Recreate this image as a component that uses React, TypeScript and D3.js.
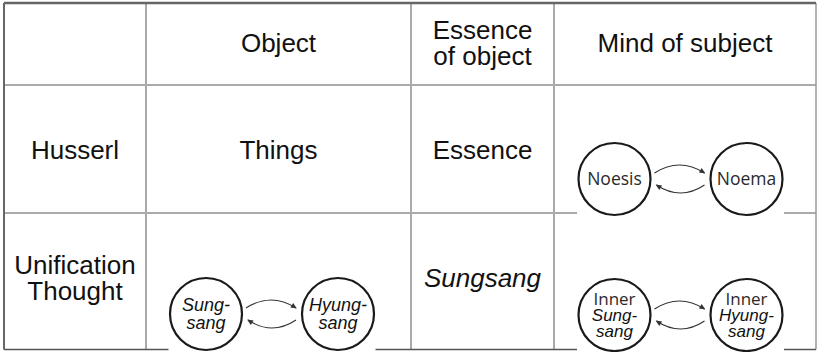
import React, { useEffect, useRef } from 'react';
import * as d3 from 'd3';

// ---- data ----
type Line = { t: string; italic?: boolean; humanist?: boolean };

const headerLabels: Line[][] = [
    [],
    [{ t: 'Object' }],
    [{ t: 'Essence' }, { t: 'of object' }],
    [{ t: 'Mind of subject' }],
];
const rowLabels: Line[][] = [
    [{ t: 'Husserl' }],
    [{ t: 'Unification' }, { t: 'Thought' }],
];
// text cells: [row, col, lines]
const textCells: [number, number, Line[]][] = [
    [0, 1, [{ t: 'Things' }]],
    [0, 2, [{ t: 'Essence' }]],
    [1, 2, [{ t: 'Sungsang', italic: true }]],
];
// diagram cells: [row, col, left circle lines, right circle lines]
const diagramCells: [number, number, Line[], Line[]][] = [
    [0, 3, [{ t: 'Noesis', humanist: true }], [{ t: 'Noema', humanist: true }]],
    [1, 1, [{ t: 'Sung-', italic: true }, { t: 'sang', italic: true }],
           [{ t: 'Hyung-', italic: true }, { t: 'sang', italic: true }]],
    [1, 3, [{ t: 'Inner', humanist: true }, { t: 'Sung-', italic: true }, { t: 'sang', italic: true }],
           [{ t: 'Inner', humanist: true }, { t: 'Hyung-', italic: true }, { t: 'sang', italic: true }]],
];

// ---- layout ----
const W = 817, H = 352;
const colEdges = [4, 146, 411, 554, 816];
const rowEdges = [3, 85, 213, 349.5];
const textMidY = [44, 149.5, 278];
const FONT = '"Liberation Sans", Arial, Helvetica, sans-serif';
const HUMANIST = '"Open Sans", "Noto Sans", sans-serif';

const App = () => {
    const ref = useRef<SVGSVGElement>(null);

    useEffect(() => {
        const svg = d3.select(ref.current);
        svg.selectAll('*').remove();

        const x = d3.scaleLinear().domain(d3.range(colEdges.length)).range(colEdges);
        const y = d3.scaleLinear().domain(d3.range(rowEdges.length)).range(rowEdges);
        const colMid = (c: number) => (x(c) + x(c + 1)) / 2;

        // grid lines
        const grid = svg.append('g');
        [1, 2, 3].forEach(c => grid.append('line')
            .attr('x1', x(c)).attr('x2', x(c)).attr('y1', y(0)).attr('y2', y(3))
            .attr('stroke', '#aaa').attr('stroke-width', 2));
        [1, 2].forEach(r => grid.append('line')
            .attr('x1', x(0)).attr('x2', x(4)).attr('y1', y(r)).attr('y2', y(r))
            .attr('stroke', '#aaa').attr('stroke-width', 2));
        grid.append('line').attr('x1', x(4)).attr('x2', x(4)).attr('y1', y(0)).attr('y2', y(3))
            .attr('stroke', '#999').attr('stroke-width', 1.5);
        grid.append('line').attr('x1', x(0)).attr('x2', x(4)).attr('y1', y(3)).attr('y2', y(3))
            .attr('stroke', '#555').attr('stroke-width', 1.5);
        grid.append('line').attr('x1', x(0)).attr('x2', x(4)).attr('y1', y(0)).attr('y2', y(0))
            .attr('stroke', '#666').attr('stroke-width', 2.5);
        grid.append('line').attr('x1', x(0)).attr('x2', x(0)).attr('y1', y(0)).attr('y2', y(3))
            .attr('stroke', '#666').attr('stroke-width', 2);

        const writeLines = (g: any, lines: Line[], cx: number, cy: number, size: number, lh: number, cap: number) => {
            lines.forEach((l, i) => {
                g.append('text')
                    .attr('x', cx)
                    .attr('y', cy + cap + (i - (lines.length - 1) / 2) * lh)
                    .attr('text-anchor', 'middle')
                    .attr('font-family', l.humanist ? HUMANIST : FONT)
                    .attr('font-style', l.italic ? 'italic' : 'normal')
                    .attr('font-size', size)
                    .attr('fill', l.humanist ? '#2a2a2a' : '#111')
                    .text(l.t);
            });
        };

        const texts = svg.append('g');
        headerLabels.forEach((lines, c) => writeLines(texts, lines, colMid(c), textMidY[0] - 1, 26, 26, 9.3));
        rowLabels.forEach((lines, r) => writeLines(texts, lines, colMid(0), textMidY[r + 1], 26, 26, 9.3));
        textCells.forEach(([r, c, lines]) => writeLines(texts, lines, colMid(c), textMidY[r + 1], 26, 26, 9.3));

        // circle pair diagrams
        const R = 36, gap = 132;
        const diagramY = [179, 315];
        const diagramShift = [0, -6.5, 0, -4.5];
        diagramCells.forEach(([r, c, left, right]) => {
            const mx = colMid(c) + diagramShift[c];
            const cy = diagramY[r] + (r === 1 && c === 1 ? -1 : 0);
            const cxs = [mx - gap / 2, mx + gap / 2];
            const g = svg.append('g');
            g.append('rect')
                .attr('x', cxs[0] - R - 1.5).attr('y', cy - R - 2.5)
                .attr('width', gap + 2 * R + 3).attr('height', 2 * R + 5)
                .attr('fill', '#fff');
            cxs.forEach((cx, i) => {
                g.append('circle').attr('cx', cx).attr('cy', cy).attr('r', R)
                    .attr('fill', '#fff').attr('stroke', '#1a1a1a').attr('stroke-width', 2.2);
                const lines = i === 0 ? left : right;
                const three = lines.length === 3;
                const lh = three ? 16 : 18;
                const sz = lines.length === 1 ? 17.5 : three ? 17 : 18;
                writeLines(g, lines, cx, cy + (three ? -0.5 : 0), sz, lh, 6);
            });
            // arcs with arrowheads
            const arcs: [number, number, number, number][] = [
                [mx - 26, mx + 24, -6, -22],
                [mx + 24, mx - 24, 6, 22],
            ];
            arcs.forEach(([x0, x1, dy, cdy]) => {
                const p = d3.path();
                const ctrlX = (x0 + x1) / 2;
                p.moveTo(x0, cy + dy);
                p.quadraticCurveTo(ctrlX, cy + cdy, x1, cy + dy);
                g.append('path').attr('d', p.toString())
                    .attr('fill', 'none').attr('stroke', '#333').attr('stroke-width', 1.1);
                const ang = Math.atan2(dy - cdy, x1 - ctrlX);
                const L = 6, hw = 2.6;
                const tipX = x1 + Math.cos(ang) * 1, tipY = cy + dy + Math.sin(ang) * 1;
                const bx = tipX - Math.cos(ang) * L, by = tipY - Math.sin(ang) * L;
                const nx = -Math.sin(ang) * hw, ny = Math.cos(ang) * hw;
                g.append('path')
                    .attr('d', `M${tipX},${tipY}L${bx + nx},${by + ny}L${bx - nx},${by - ny}Z`)
                    .attr('fill', '#333');
            });
        });
    }, []);

    return (
        <svg ref={ref} width={W} height={H}
            style={{ position: 'absolute', left: 0, top: 0, background: '#fff' }} />
    );
};

export default App;
